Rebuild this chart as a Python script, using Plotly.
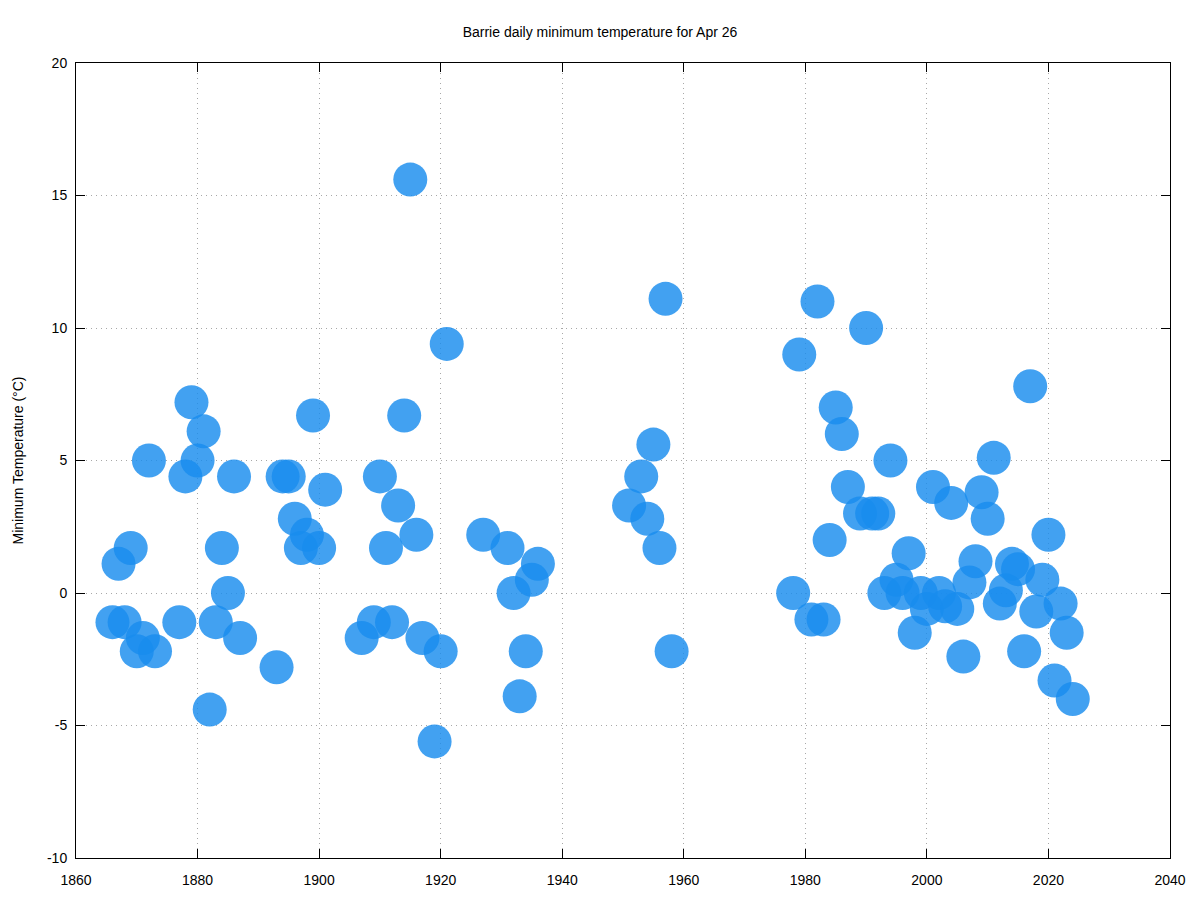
import plotly.graph_objects as go

years = [1866, 1867, 1868, 1869, 1870, 1871, 1872, 1873, 1877, 1878, 1879, 1880, 1881, 1882,
         1883, 1884, 1885, 1886, 1887, 1893, 1894, 1895, 1896, 1897, 1898, 1899, 1900, 1901,
         1907, 1909, 1910, 1911, 1912, 1913, 1914, 1915, 1916, 1917, 1919, 1920, 1921,
         1927, 1931, 1932, 1933, 1934, 1935, 1936,
         1951, 1953, 1954, 1955, 1956, 1957, 1958,
         1978, 1979, 1981, 1982, 1983, 1984, 1985, 1986, 1987, 1989, 1990, 1991, 1992,
         1993, 1994, 1995, 1996, 1997, 1998, 1999, 2000, 2001, 2002, 2003, 2004, 2005,
         2006, 2007, 2008, 2009, 2010, 2011, 2012, 2013, 2014, 2015, 2016, 2017, 2018,
         2019, 2020, 2021, 2022, 2023, 2024]
min_temps = [-1.1, 1.1, -1.1, 1.7, -2.2, -1.7, 5.0, -2.2, -1.1, 4.4, 7.2, 5.0, 6.1, -4.4,
             -1.1, 1.7, 0.0, 4.4, -1.7, -2.8, 4.4, 4.4, 2.8, 1.7, 2.2, 6.7, 1.7, 3.9,
             -1.7, -1.1, 4.4, 1.7, -1.1, 3.3, 6.7, 15.6, 2.2, -1.7, -5.6, -2.2, 9.4,
             2.2, 1.7, 0.0, -3.9, -2.2, 0.5, 1.1,
             3.3, 4.4, 2.8, 5.6, 1.7, 11.1, -2.2,
             0.0, 9.0, -1.0, 11.0, -1.0, 2.0, 7.0, 6.0, 4.0, 3.0, 10.0, 3.0, 3.0,
             0.0, 5.0, 0.5, 0.0, 1.5, -1.5, 0.0, -0.6, 4.0, 0.0, -0.5, 3.4, -0.6,
             -2.4, 0.4, 1.2, 3.8, 2.8, 5.1, -0.4, 0.1, 1.1, 0.9, -2.2, 7.8, -0.7,
             0.5, 2.2, -3.3, -0.4, -1.5, -4.0]

x_ticks = [1860, 1880, 1900, 1920, 1940, 1960, 1980, 2000, 2020, 2040]
y_ticks = [-10, -5, 0, 5, 10, 15, 20]
y_tick_labels = ["-10", "-5", "0", "5", "10", "15", "20"]

FONT = "Liberation Sans, Arial, sans-serif"

fig = go.Figure()
fig.add_trace(go.Scatter(
    x=years, y=min_temps, mode="markers",
    marker=dict(size=34, color="rgb(24,140,238)", opacity=0.82, line=dict(width=0)),
    showlegend=False,
))

axis_common = dict(
    showline=True, linecolor="black", linewidth=1, mirror="ticks",
    ticks="inside", ticklen=9, tickcolor="black",
    showgrid=True, gridcolor="#a8a8a8", griddash="1px,4px", gridwidth=1,
    zeroline=False,
    tickfont=dict(family=FONT, size=14, color="black"),
)

fig.update_layout(
    width=1200, height=900,
    margin=dict(l=76, r=30, t=63, b=42),
    paper_bgcolor="white", plot_bgcolor="white",
    title=dict(text="Barrie daily minimum temperature for Apr 26", x=0.5, xanchor="center",
               y=1 - 32 / 900, yanchor="middle",
               font=dict(family=FONT, size=14, color="black")),
    xaxis=dict(range=[1860, 2040], tickvals=x_ticks, ticklabelstandoff=9, **axis_common),
    yaxis=dict(range=[-10, 20], tickvals=y_ticks, ticktext=y_tick_labels, ticklabelstandoff=5,
               title=dict(text="Minimum Temperature (°C)", standoff=20,
                          font=dict(family=FONT, size=14, color="black")),
               **axis_common),
)

fig.write_html("out.html")
